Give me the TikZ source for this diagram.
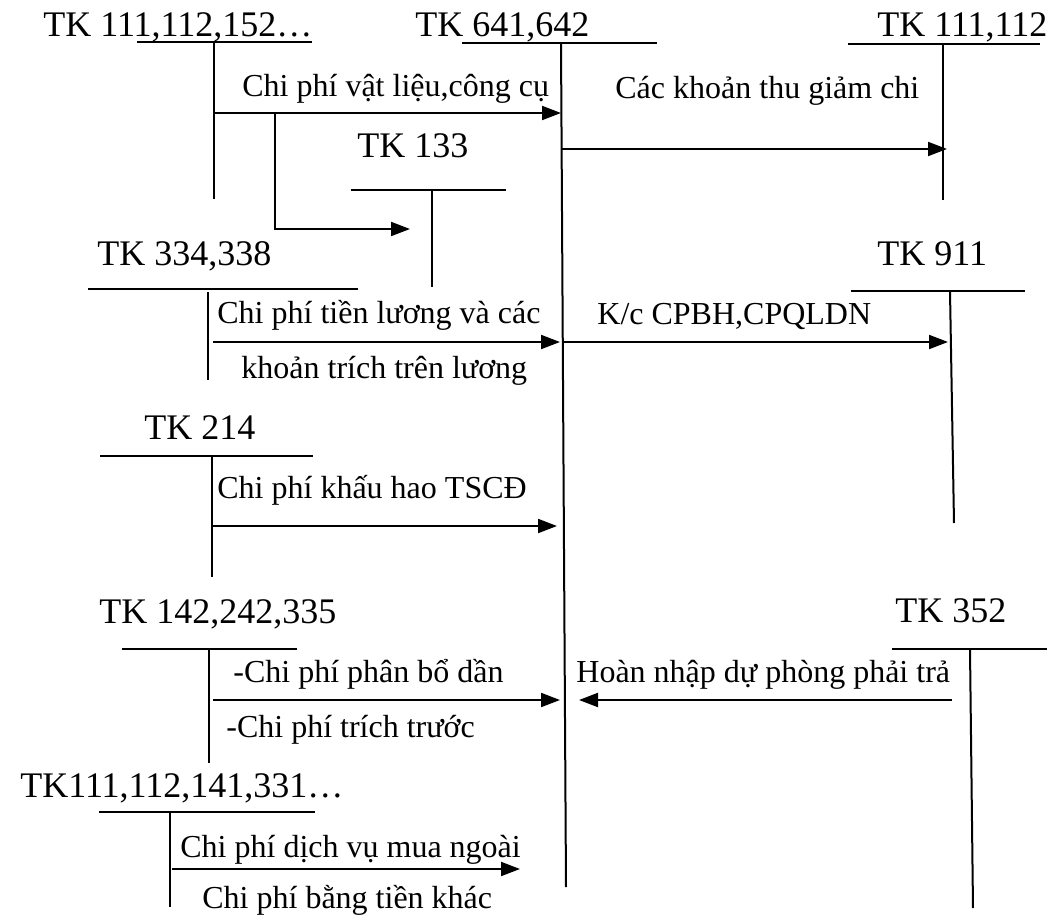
\documentclass[tikz,border=0pt]{standalone}
\usepackage{fontspec}
\setmainfont{Liberation Serif}
\usetikzlibrary{arrows.meta}
\begin{document}
\begin{tikzpicture}[x=0.5pt,y=-0.5pt,
  acc/.style={inner sep=0pt, anchor=base west, font=\fontsize{18}{20}\selectfont},
  lbl/.style={inner sep=0pt, anchor=base west, font=\fontsize{16}{18}\selectfont},
  tline/.style={line width=1pt},
  flow/.style={line width=1pt, -{Triangle[length=9.5pt,width=7pt]}}]
\useasboundingbox (0,0) rectangle (1062,921);

% ---- T accounts ----
% TK 111,112,152
\node[acc] (a111) at (43,37) {TK 111,112,152…};
\draw[tline] (137,42) -- (312,42);
\coordinate (v111t) at (214,42); \coordinate (v111b) at (214,199);
\draw[tline] (v111t) -- (v111b);

% TK 641,642 (main)
\node[acc] (a641) at (415,37) {TK 641,642};
\draw[tline] (462,43) -- (657,43);
\coordinate (v641t) at (561,43); \coordinate (v641b) at (566,887);
\draw[tline] (v641t) -- (v641b);

% TK 111,112 right
\node[acc] (a111r) at (877,37) {TK 111,112};
\draw[tline] (848,44) -- (1040,44);
\coordinate (v111rt) at (943,44); \coordinate (v111rb) at (943,200);
\draw[tline] (v111rt) -- (v111rb);

% TK 133
\node[acc] (a133) at (357,157) {TK 133};
\draw[tline] (351,190) -- (506,190);
\draw[tline] (432,190) -- (432,287);

% TK 334,338
\node[acc] (a334) at (97,265) {TK 334,338};
\draw[tline] (88,289) -- (358,289);
\draw[tline] (208,292) -- (208,380);

% TK 911
\node[acc] (a911) at (877,265) {TK 911};
\draw[tline] (851,291) -- (1025,291);
\draw[tline] (950,291) -- (954,523);

% TK 214
\node[acc] (a214) at (144,439) {TK 214};
\draw[tline] (100,456) -- (313,456);
\draw[tline] (212,456) -- (212,577);

% TK 142,242,335
\node[acc] (a142) at (99,623) {TK 142,242,335};
\draw[tline] (122,649) -- (297,649);
\draw[tline] (209,649) -- (209,763);

% TK 352
\node[acc] (a352) at (895,622) {TK 352};
\draw[tline] (892,649) -- (1047,649);
\draw[tline] (970,649) -- (973,908);

% TK111,112,141,331
\node[acc] (a331) at (20,797) {TK111,112,141,331…};
\draw[tline] (99,812) -- (315,812);
\draw[tline] (170,812) -- (170,907);

% ---- connectors ----
\coordinate (s1) at (214,113); \coordinate (e1) at (561,113);
\draw[flow] (s1) -- (e1);
\node[lbl] (l1) at (242,97) {Chi phí vật liệu,công cụ};

\coordinate (b1) at (275,113); \coordinate (b2) at (275,229); \coordinate (e133) at (410,229);
\draw[flow] (b1) -- (b2) -- (e133);

\coordinate (s2) at (561,149); \coordinate (e2) at (947,149);
\draw[flow] (s2) -- (e2);
\node[lbl] (l2) at (615,98) {Các khoản thu giảm chi};

\coordinate (s3) at (213,342); \coordinate (e3) at (560,342);
\draw[flow] (s3) -- (e3);
\node[lbl] (l3a) at (217,323) {Chi phí tiền lương và các};
\node[lbl] (l3b) at (241,378) {khoản trích trên lương};

\coordinate (s4) at (562,342); \coordinate (e4) at (948,342);
\draw[flow] (s4) -- (e4);
\node[lbl] (l4) at (597,324) {K/c CPBH,CPQLDN};

\coordinate (s5) at (211,526); \coordinate (e5) at (557,526);
\draw[flow] (s5) -- (e5);
\node[lbl] (l5) at (217,498) {Chi phí khấu hao TSCĐ};

\coordinate (s6) at (213,700); \coordinate (e6) at (560,700);
\draw[flow] (s6) -- (e6);
\node[lbl] (l6a) at (233,682) {-Chi phí phân bổ dần};
\node[lbl] (l6b) at (226,737) {-Chi phí trích trước};

\coordinate (s7) at (952,700); \coordinate (e7) at (579,700);
\draw[flow] (s7) -- (e7);
\node[lbl] (l7) at (576,682) {Hoàn nhập dự phòng phải trả};

\coordinate (s8) at (172,869); \coordinate (e8) at (520,869);
\draw[flow] (s8) -- (e8);
\node[lbl] (l8a) at (180,857) {Chi phí dịch vụ mua ngoài};
\node[lbl] (l8b) at (202,908) {Chi phí bằng tiền khác};
\end{tikzpicture}
\end{document}
